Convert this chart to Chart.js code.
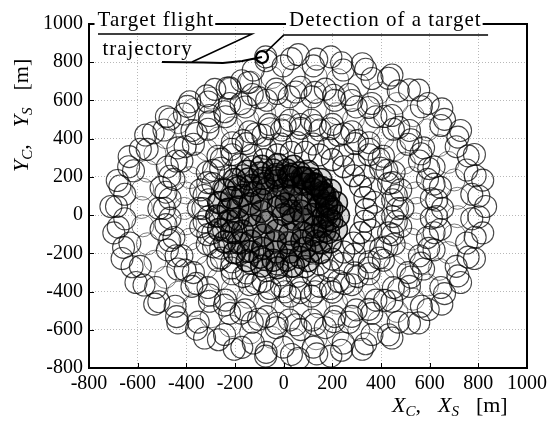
<!DOCTYPE html>
<html>
<head>
<meta charset="utf-8">
<style>
  html, body { margin: 0; padding: 0; background: #fff; overflow: hidden; }
  canvas { display: block; }
</style>
<script src="https://cdn.jsdelivr.net/npm/chart.js@4.4.0/dist/chart.umd.min.js"></script>
</head>
<body>
<canvas id="chart" width="553" height="424"></canvas>
<script>
// Axis ticks (metres)
const tickValues = [-800, -600, -400, -200, 0, 200, 400, 600, 800, 1000];

// Centres of the search loops [X, Y] in metres, band by band, outermost first
const outerBandA = [[830,45],[818,183],[784,317],[727,443],[650,556],[555,654],[445,733],[323,792],[194,828],[60,840],[-74,828],[-172,703],[-283,658],[-386,593],[-482,515],[-567,419],[-635,306],[-684,181],[-710,45],[-698,-93],[-664,-227],[-607,-353],[-530,-466],[-435,-564],[-325,-643],[-203,-702],[-74,-738],[60,-750],[194,-738],[323,-702],[445,-643],[555,-564],[650,-466],[727,-353],[784,-227],[818,-93]];
const outerBandB = [[773,109],[752,236],[709,358],[646,469],[566,567],[471,650],[363,715],[245,759],[122,781],[-2,781],[-125,759],[-221,666],[-311,592],[-408,529],[-492,445],[-561,344],[-617,232],[-653,109],[-653,-19],[-632,-146],[-589,-268],[-526,-379],[-446,-477],[-351,-560],[-243,-625],[-125,-669],[-2,-691],[122,-691],[245,-669],[363,-625],[471,-560],[566,-477],[646,-379],[709,-268],[752,-146],[773,-19]];
const outerBandC = [[802,99],[787,206],[758,310],[716,408],[661,501],[594,584],[517,656],[431,716],[337,763],[238,797],[136,816],[32,819],[-72,808],[-145,694],[-232,665],[-317,624],[-396,569],[-467,503],[-536,431],[-589,345],[-637,253],[-673,152],[-687,45],[-680,-63],[-658,-169],[-623,-270],[-574,-366],[-513,-453],[-440,-531],[-358,-597],[-268,-652],[-172,-692],[-72,-718],[32,-729],[136,-726],[238,-707],[337,-673],[431,-626],[517,-566],[594,-494],[661,-411],[716,-318],[758,-220],[787,-116],[802,-9]];
const outerGap = [[714,88],[701,184],[676,276],[639,364],[591,446],[532,520],[465,584],[390,638],[309,680],[222,709],[133,727],[42,729],[-48,720],[-136,696],[-220,660],[-298,612],[-370,553],[-433,484],[-486,406],[-529,321],[-560,230],[-579,136],[-585,40],[-579,-56],[-560,-150],[-529,-241],[-486,-326],[-433,-404],[-370,-473],[-298,-532],[-220,-580],[-136,-616],[-48,-640],[42,-649],[133,-647],[222,-629],[309,-600],[390,-558],[465,-504],[532,-440],[591,-366],[639,-284],[676,-196],[701,-104],[714,-8]];
const middleBandA = [[653,35],[644,145],[618,252],[575,352],[517,443],[445,521],[362,584],[269,631],[171,659],[70,669],[-31,659],[-129,631],[-222,584],[-305,521],[-377,443],[-435,352],[-478,252],[-504,145],[-513,35],[-504,-75],[-478,-182],[-435,-282],[-377,-373],[-305,-451],[-222,-514],[-129,-561],[-31,-589],[70,-599],[171,-589],[269,-561],[362,-514],[445,-451],[517,-373],[575,-282],[618,-182],[644,-75]];
const middleBandB = [[607,86],[591,187],[558,283],[511,371],[451,449],[379,515],[298,566],[210,601],[117,619],[23,619],[-70,601],[-158,566],[-239,515],[-311,449],[-371,371],[-418,283],[-451,187],[-467,86],[-467,-16],[-451,-117],[-418,-213],[-371,-301],[-311,-379],[-239,-445],[-158,-496],[-70,-531],[23,-549],[117,-549],[210,-531],[298,-496],[379,-445],[451,-379],[511,-301],[558,-213],[591,-117],[607,-16]];
const middleBandC = [[629,78],[618,162],[596,244],[564,321],[523,394],[473,459],[415,516],[350,563],[280,600],[206,627],[129,642],[50,644],[-27,636],[-103,615],[-175,583],[-243,541],[-305,488],[-359,427],[-405,358],[-442,283],[-468,203],[-484,120],[-490,35],[-484,-50],[-468,-133],[-442,-213],[-405,-288],[-359,-357],[-305,-418],[-243,-471],[-175,-513],[-103,-545],[-27,-566],[50,-574],[129,-572],[206,-557],[280,-530],[350,-493],[415,-446],[473,-389],[523,-324],[564,-251],[596,-174],[618,-92],[629,-8]];
const middleGap = [[548,35],[542,116],[525,196],[496,272],[457,342],[408,404],[351,457],[287,500],[218,531],[145,551],[70,557],[-5,551],[-78,531],[-147,500],[-211,457],[-268,404],[-317,342],[-356,272],[-385,196],[-402,116],[-408,35],[-402,-46],[-385,-126],[-356,-202],[-317,-272],[-268,-334],[-211,-387],[-147,-430],[-78,-461],[-5,-481],[70,-487],[145,-481],[218,-461],[287,-430],[351,-387],[408,-334],[457,-272],[496,-202],[525,-126],[542,-46]];
const innerBandA = [[490,36],[481,132],[454,224],[410,308],[351,379],[280,436],[200,475],[114,496],[26,496],[-60,475],[-140,436],[-211,379],[-270,308],[-314,224],[-341,132],[-350,36],[-341,-60],[-314,-152],[-270,-236],[-211,-307],[-140,-364],[-60,-403],[26,-424],[114,-424],[200,-403],[280,-364],[351,-307],[410,-236],[454,-152],[481,-60]];
const innerBandB = [[448,80],[431,165],[399,245],[352,316],[293,374],[225,418],[149,445],[70,454],[-9,445],[-85,418],[-153,374],[-212,316],[-259,245],[-291,165],[-308,80],[-308,-8],[-291,-93],[-259,-173],[-212,-244],[-153,-302],[-85,-346],[-9,-373],[70,-382],[149,-373],[225,-346],[293,-302],[352,-244],[399,-173],[431,-93],[448,-8]];
const innerBandC = [[468,34],[463,103],[448,170],[424,234],[392,293],[351,345],[303,390],[250,426],[192,452],[130,469],[68,474],[6,469],[-56,452],[-114,426],[-167,390],[-215,345],[-256,293],[-288,234],[-312,170],[-327,103],[-332,34],[-327,-35],[-312,-102],[-288,-166],[-256,-225],[-215,-277],[-167,-322],[-114,-358],[-56,-384],[6,-401],[68,-406],[130,-401],[192,-384],[250,-358],[303,-322],[351,-277],[392,-225],[424,-166],[448,-102],[463,-35]];
const innerGap = [[371,67],[357,138],[330,205],[291,264],[242,313],[184,350],[121,372],[55,380],[-11,372],[-74,350],[-132,313],[-181,264],[-220,205],[-247,138],[-261,67],[-261,-7],[-247,-78],[-220,-145],[-181,-204],[-132,-253],[-74,-290],[-11,-312],[55,-320],[121,-312],[184,-290],[242,-253],[291,-204],[330,-145],[357,-78],[371,-7]];
const coreHalo = [[340,30],[334,92],[316,152],[287,206],[247,253],[200,290],[147,315],[89,329],[31,329],[-27,315],[-80,290],[-127,253],[-167,206],[-196,152],[-214,92],[-220,30],[-214,-32],[-196,-92],[-167,-146],[-127,-193],[-80,-230],[-27,-255],[31,-269],[89,-269],[147,-255],[200,-230],[247,-193],[287,-146],[316,-92],[334,-32]];
const coreRing1 = [[225,-5],[217,65],[192,130],[152,186],[100,229],[40,256],[-25,265],[-90,256],[-150,229],[-202,186],[-242,130],[-267,65],[-275,-5],[-267,-75],[-242,-140],[-202,-196],[-150,-239],[-90,-266],[-25,-275],[40,-266],[100,-239],[152,-196],[192,-140],[217,-75]];
const coreRing1b = [[198,31],[184,91],[155,145],[116,189],[67,220],[13,236],[-43,236],[-97,220],[-146,189],[-185,145],[-214,91],[-228,31],[-228,-31],[-214,-91],[-185,-145],[-146,-189],[-97,-220],[-43,-236],[13,-236],[67,-220],[116,-189],[155,-145],[184,-91],[198,-31]];
const coreRing2 = [[188,42],[169,103],[134,155],[86,193],[30,213],[-30,213],[-86,193],[-134,155],[-169,103],[-188,42],[-188,-22],[-169,-83],[-134,-135],[-86,-173],[-30,-193],[30,-193],[86,-173],[134,-135],[169,-83],[188,-22]];
const coreRing2b = [[178,60],[159,118],[123,164],[75,195],[20,205],[-35,195],[-83,164],[-119,118],[-138,60],[-138,0],[-119,-58],[-83,-104],[-35,-135],[20,-145],[75,-135],[123,-104],[159,-58],[178,0]];
const coreRing3 = [[175,50],[163,111],[130,161],[82,193],[26,199],[-28,180],[-69,138],[-92,81],[-92,19],[-69,-38],[-28,-80],[26,-99],[82,-93],[130,-61],[163,-11]];
const coreRing4 = [[142,95],[120,137],[82,162],[38,162],[0,137],[-22,95],[-22,45],[0,3],[38,-22],[82,-22],[120,3],[142,45]];
const coreRing5 = [[90,60],[70,99],[30,99],[10,60],[30,21],[70,21]];
const startLoop = [[-5,18]];

// Target flight trajectory and the point where it is detected
const targetTrack = [[-500,801],[-330,798],[-250,796],[-170,806],[-89,827]];
const detectionPoint = [[-89,827]];

// Leader lines of the two annotations
const trackLeader = [[-763,948],[-130,948],[-377,801]];
const detectionLeader = [[840,942],[0,942],[-73,853]];

// Annotation texts with their anchor (left end of baseline) in metres
const notes = [
  { text: 'Target flight', x: -765, y: 990, box: true },
  { text: 'trajectory', x: -745, y: 838, box: false },
  { text: 'Detection of a target', x: 22, y: 990, box: true }
];

const serif = '"Liberation Serif", "Times New Roman", serif';
const pts = arr => arr.map(([x, y]) => ({ x, y }));

const loopSet = (data, opts) => Object.assign({
  data: pts(data),
  showLine: false,
  pointStyle: 'circle',
  pointRadius: 11,
  pointHoverRadius: 11,
  borderWidth: 1.1,
  borderColor: 'rgba(0,0,0,0.72)',
  backgroundColor: 'rgba(0,0,0,0)',
  order: 2
}, opts || {});

const gapStyle = { borderColor: 'rgba(0,0,0,0.5)', borderWidth: 1 };
const coreStyle = fill => ({ borderColor: 'rgba(0,0,0,0.88)', borderWidth: 1.5, backgroundColor: fill, order: 3 });

const lineSet = (data, width) => ({
  data: pts(data),
  showLine: true,
  fill: false,
  borderColor: '#000',
  borderWidth: width,
  pointRadius: 0,
  pointHoverRadius: 0,
  tension: 0,
  order: 0
});

function drawPieces(ctx, pieces) {
  let cx = 0;
  for (const p of pieces) {
    if (p.gap) { cx += p.gap; continue; }
    ctx.font = p.font;
    ctx.fillText(p.text, cx, p.dy || 0);
    cx += ctx.measureText(p.text).width;
  }
}

const titlePieces = v => [
  { text: v, font: `italic 22px ${serif}` },
  { text: 'C', font: `italic 15px ${serif}`, dy: 4 },
  { text: ',', font: `22px ${serif}` },
  { gap: 17 },
  { text: v, font: `italic 22px ${serif}` },
  { text: 'S', font: `italic 15px ${serif}`, dy: 4 },
  { gap: 17 },
  { text: '[m]', font: `22px ${serif}` }
];

const frameAndNotes = {
  id: 'frameAndNotes',
  afterDraw(chart) {
    const { ctx, chartArea: a, scales: { x, y } } = chart;
    ctx.save();
    ctx.fillStyle = '#000';
    ctx.strokeStyle = '#000';

    // short inward ticks on the bottom and left edges
    ctx.lineWidth = 1;
    ctx.beginPath();
    for (const v of tickValues) {
      const px = Math.round(x.getPixelForValue(v)) + 0.5;
      ctx.moveTo(px, a.bottom); ctx.lineTo(px, a.bottom - 5);
      const py = Math.round(y.getPixelForValue(v)) + 0.5;
      ctx.moveTo(a.left, py); ctx.lineTo(a.left + 5, py);
    }
    ctx.stroke();

    // plot frame
    ctx.lineWidth = 2;
    ctx.strokeRect(a.left, a.top, a.right - a.left, a.bottom - a.top);

    // annotation texts, the boxed ones sit on the top edge
    ctx.font = `21px ${serif}`;
    ctx.letterSpacing = '1px';
    ctx.textBaseline = 'alphabetic';
    ctx.textAlign = 'left';
    for (const n of notes) {
      const px = x.getPixelForValue(n.x);
      const py = y.getPixelForValue(n.y);
      const w = ctx.measureText(n.text).width;
      if (n.box) {
        ctx.fillStyle = '#fff';
        ctx.fillRect(px - 3, py - 17, w + 4, 22);
        ctx.fillStyle = '#000';
      }
      ctx.fillText(n.text, px, py);
    }
    ctx.letterSpacing = '0px';

    // axis titles
    ctx.save();
    ctx.translate(a.right - 135, a.bottom + 44);
    drawPieces(ctx, titlePieces('X'));
    ctx.restore();

    ctx.save();
    ctx.translate(a.left - 61, a.top + 148);
    ctx.rotate(-Math.PI / 2);
    drawPieces(ctx, titlePieces('Y'));
    ctx.restore();

    ctx.restore();
  }
};

const axisCommon = {
  type: 'linear',
  min: -800,
  max: 1000,
  grid: {
    color: 'rgba(0,0,0,0.28)',
    lineWidth: 1,
    drawTicks: false
  },
  border: { display: false, dash: [1, 2] },
  ticks: {
    stepSize: 200,
    color: '#000',
    font: { family: serif, size: 20 },
    callback: v => String(v)
  }
};

new Chart(document.getElementById('chart'), {
  type: 'scatter',
  data: {
    datasets: [
      lineSet(targetTrack, 2),
      lineSet(trackLeader, 1.5),
      lineSet(detectionLeader, 1.5),
      {
        data: pts(detectionPoint),
        showLine: false,
        pointStyle: 'circle',
        pointRadius: 6,
        pointHoverRadius: 6,
        borderWidth: 2.2,
        borderColor: '#000',
        backgroundColor: 'rgba(0,0,0,0)',
        order: 0
      },
      loopSet(outerBandA),
      loopSet(outerBandB),
      loopSet(outerBandC),
      loopSet(outerGap, gapStyle),
      loopSet(middleBandA),
      loopSet(middleBandB),
      loopSet(middleBandC),
      loopSet(middleGap, gapStyle),
      loopSet(innerBandA),
      loopSet(innerBandB),
      loopSet(innerBandC),
      loopSet(innerGap),
      loopSet(coreHalo, { borderWidth: 1.2, borderColor: 'rgba(0,0,0,0.8)' }),
      loopSet(coreRing1, coreStyle('rgba(0,0,0,0.14)')),
      loopSet(coreRing1b, coreStyle('rgba(0,0,0,0.17)')),
      loopSet(coreRing2, coreStyle('rgba(0,0,0,0.2)')),
      loopSet(coreRing2b, coreStyle('rgba(0,0,0,0.22)')),
      loopSet(coreRing3, coreStyle('rgba(0,0,0,0.26)')),
      loopSet(coreRing4, coreStyle('rgba(0,0,0,0.26)')),
      loopSet(coreRing5, coreStyle('rgba(0,0,0,0.26)')),
      loopSet(startLoop, { pointRadius: 21, pointHoverRadius: 21, borderWidth: 1.5, borderColor: 'rgba(40,40,40,0.9)', order: 1 })
    ]
  },
  options: {
    responsive: false,
    animation: false,
    devicePixelRatio: 1,
    layout: { padding: { top: 24, right: 26, bottom: 0, left: 0 } },
    plugins: {
      legend: { display: false },
      tooltip: { enabled: false }
    },
    scales: {
      x: Object.assign({}, axisCommon, {
        position: 'bottom',
        ticks: Object.assign({}, axisCommon.ticks, { padding: 4, maxRotation: 0, autoSkip: false }),
        afterFit: s => { s.height = 56; }
      }),
      y: Object.assign({}, axisCommon, {
        position: 'left',
        ticks: Object.assign({}, axisCommon.ticks, { padding: 6, autoSkip: false }),
        afterFit: s => { s.width = 89; }
      })
    }
  },
  plugins: [frameAndNotes]
});
</script>
</body>
</html>
